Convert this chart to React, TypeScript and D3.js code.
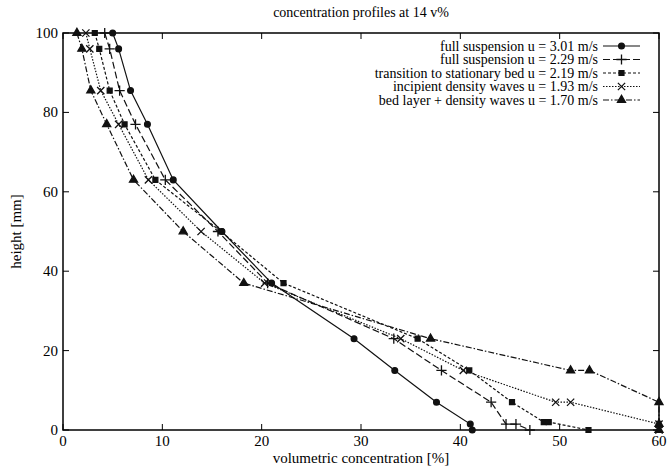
import * as d3 from "d3";

const title = "concentration profiles at 14 v%";
const xTicks = [0, 10, 20, 30, 40, 50, 60];
const yTicks = [0, 20, 40, 60, 80, 100];

// series 1: full suspension u = 3.01 m/s
const h1 = [100, 96, 85.5, 77, 63, 50, 37, 23, 15, 7, 1.5, 0];
const c1 = [5.0, 5.6, 6.8, 8.5, 11.1, 16.0, 21.0, 29.3, 33.4, 37.6, 41.0, 41.2];
// series 2: full suspension u = 2.29 m/s
const h2 = [100, 96, 85.5, 77, 63, 50, 37, 23, 15, 7, 1.5, 1.5, 0];
const c2 = [4.2, 4.7, 5.7, 7.3, 10.3, 15.6, 20.6, 33.3, 38.1, 43.1, 44.6, 45.6, 47.0];
// series 3: transition to stationary bed u = 2.19 m/s
const h3 = [100, 96, 85.5, 77, 63, 50, 37, 23, 15, 7, 2, 2, 0];
const c3 = [3.2, 3.65, 4.7, 6.2, 9.3, 15.9, 22.2, 35.7, 40.9, 45.2, 48.4, 48.9, 52.9];
// series 4: incipient density waves u = 1.93 m/s
const h4 = [100, 96, 85.5, 77, 63, 50, 37, 23, 15, 7, 7, 1.5, 0];
const c4 = [2.3, 2.7, 3.8, 5.6, 8.6, 13.9, 20.3, 34.0, 40.3, 49.6, 51.1, 60, 60];
// series 5: bed layer + density waves u = 1.70 m/s
const h5 = [100, 96, 85.5, 77, 63, 50, 37, 23, 15, 15, 7, 1.5, 0];
const c5 = [1.4, 1.9, 2.8, 4.4, 7.1, 12.1, 18.2, 37.0, 51.1, 53.0, 60, 60, 60];

const labels = [
  "full suspension u = 3.01 m/s",
  "full suspension u = 2.29 m/s",
  "transition to stationary bed u = 2.19 m/s",
  "incipient density waves u = 1.93 m/s",
  "bed layer + density waves u = 1.70 m/s",
];

const series = [
  { h: h1, c: c1, dash: "none", sym: d3.symbolCircle, size: 26, filled: true },
  { h: h2, c: c2, dash: "7,3", sym: d3.symbolPlus, size: 36, filled: false },
  { h: h3, c: c3, dash: "3,2", sym: d3.symbolSquare, size: 24, filled: true },
  { h: h4, c: c4, dash: "1.5,1.5", sym: d3.symbolTimes, size: 36, filled: false },
  { h: h5, c: c5, dash: "6,2,1.5,2", sym: d3.symbolTriangle, size: 28, filled: true },
];

const W = 671;
const H = 471;
const margin = { top: 33, right: 12, bottom: 41, left: 63 };
const font = "'Liberation Serif', 'DejaVu Serif', serif";

export default function App() {
  const x = d3.scaleLinear().domain([0, 60]).range([margin.left, W - margin.right]);
  const y = d3.scaleLinear().domain([0, 100]).range([H - margin.bottom, margin.top]);

  const line = d3
    .line<[number, number]>()
    .x((d) => x(d[0]))
    .y((d) => y(d[1]));

  const x0 = margin.left;
  const x1 = W - margin.right;
  const y0 = H - margin.bottom;
  const y1 = margin.top;
  const tick = 6;

  return (
    <svg
      width={W}
      height={H}
      style={{ position: "absolute", left: 0, top: 0, background: "#fff" }}
      fontFamily={font}
    >
      <rect width={W} height={H} fill="#fff" />
      <text x={(x0 + x1) / 2} y={17} textAnchor="middle" fontSize={14}>
        {title}
      </text>

      {/* ticks, mirrored on all sides */}
      {xTicks.map((t) => (
        <g key={"x" + t}>
          <line x1={x(t)} x2={x(t)} y1={y0} y2={y0 - tick} stroke="#000" />
          <line x1={x(t)} x2={x(t)} y1={y1} y2={y1 + tick} stroke="#000" />
          <text x={x(t)} y={y0 + 16} textAnchor="middle" fontSize={15}>
            {t}
          </text>
        </g>
      ))}
      {yTicks.map((t) => (
        <g key={"y" + t}>
          <line x1={x0} x2={x0 + tick} y1={y(t)} y2={y(t)} stroke="#000" />
          <line x1={x1} x2={x1 - tick} y1={y(t)} y2={y(t)} stroke="#000" />
          <text x={x0 - 5} y={y(t) + 5} textAnchor="end" fontSize={15}>
            {t}
          </text>
        </g>
      ))}

      <rect
        x={x0}
        y={y1}
        width={x1 - x0}
        height={y0 - y1}
        fill="none"
        stroke="#000"
        strokeWidth={1.5}
      />

      <text x={(x0 + x1) / 2} y={463} textAnchor="middle" fontSize={15}>
        volumetric concentration [%]
      </text>
      <text
        transform={`translate(21, ${(y0 + y1) / 2}) rotate(-90)`}
        textAnchor="middle"
        fontSize={15}
      >
        height [mm]
      </text>

      {series.map((s, i) => {
        const pts: [number, number][] = s.c.map((v, j) => [v, s.h[j]]);
        const sym = d3.symbol().type(s.sym).size(s.size)() || "";
        return (
          <g key={"s" + i}>
            <path
              d={line(pts) || ""}
              fill="none"
              stroke="#111"
              strokeWidth={1.2}
              strokeDasharray={s.dash}
            />
            {pts.map((p, j) => (
              <path
                key={j}
                d={sym}
                transform={`translate(${x(p[0])},${y(p[1])})`}
                fill={s.filled ? "#111" : "none"}
                stroke="#111"
                strokeWidth={1.3}
              />
            ))}
          </g>
        );
      })}

      {/* legend */}
      {series.map((s, i) => {
        const ly = 46 + i * 13.5;
        const sym = d3.symbol().type(s.sym).size(s.size)() || "";
        return (
          <g key={"l" + i}>
            <text x={598} y={ly + 4.5} textAnchor="end" fontSize={14}>
              {labels[i]}
            </text>
            <line
              x1={603}
              x2={640}
              y1={ly}
              y2={ly}
              stroke="#111"
              strokeWidth={1.2}
              strokeDasharray={s.dash}
            />
            <path
              d={sym}
              transform={`translate(621.5,${ly})`}
              fill={s.filled ? "#111" : "none"}
              stroke="#111"
              strokeWidth={1.3}
            />
          </g>
        );
      })}
    </svg>
  );
}
